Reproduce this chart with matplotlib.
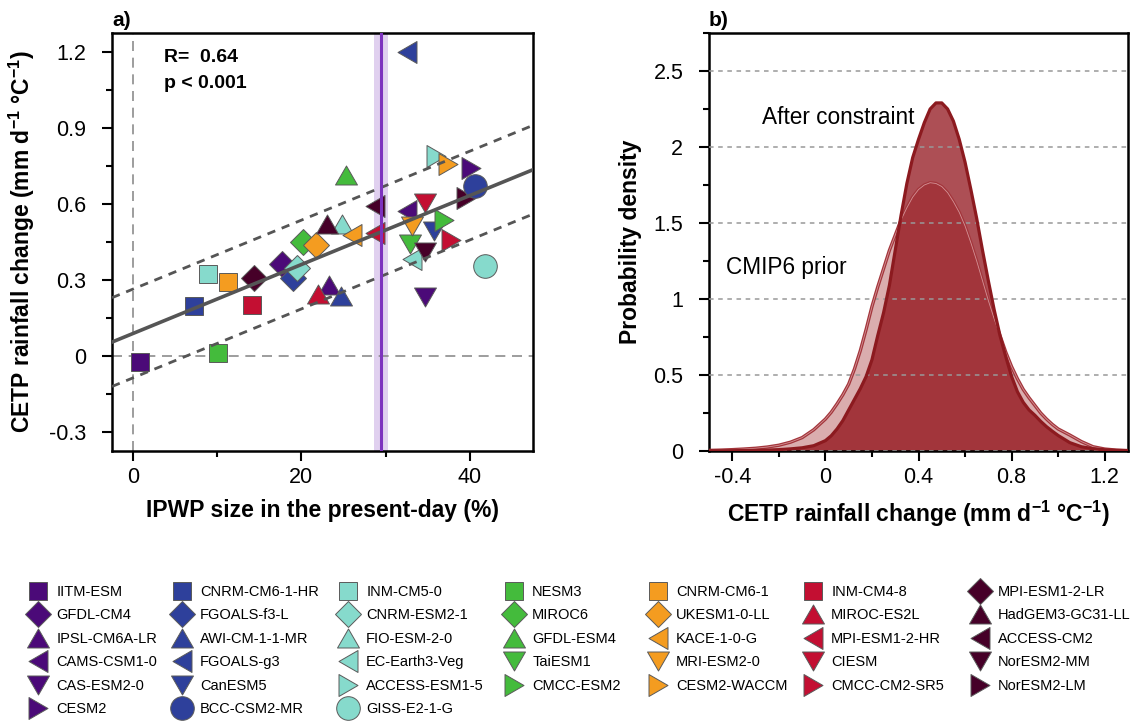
#======================================================================
#   IMPORTS:
#======================================================================

import numpy as np
import matplotlib
matplotlib.use('Agg')
from matplotlib import pyplot as plt
from matplotlib.path import Path
from matplotlib.ticker import MultipleLocator, FuncFormatter


#======================================================================
#   GLOBALS:
#======================================================================

plt.rcParams['font.family'] = ['Liberation Sans', 'DejaVu Sans']
plt.rcParams['axes.unicode_minus'] = False
plt.rcParams['mathtext.fontset'] = 'custom'
plt.rcParams['mathtext.rm'] = 'Liberation Sans'
plt.rcParams['mathtext.bf'] = 'Liberation Sans:bold'
plt.rcParams['mathtext.default'] = 'regular'

# one colour per legend column
ls_colors = ['#4b0a78', '#2e409b', '#86dacc', '#44bb3c', '#f49c20', '#c30f32', '#460028']

# models, in legend order (column by column)
ls_names = ['IITM-ESM', 'GFDL-CM4', 'IPSL-CM6A-LR', 'CAMS-CSM1-0', 'CAS-ESM2-0', 'CESM2',
            'CNRM-CM6-1-HR', 'FGOALS-f3-L', 'AWI-CM-1-1-MR', 'FGOALS-g3', 'CanESM5', 'BCC-CSM2-MR',
            'INM-CM5-0', 'CNRM-ESM2-1', 'FIO-ESM-2-0', 'EC-Earth3-Veg', 'ACCESS-ESM1-5', 'GISS-E2-1-G',
            'NESM3', 'MIROC6', 'GFDL-ESM4', 'TaiESM1', 'CMCC-ESM2',
            'CNRM-CM6-1', 'UKESM1-0-LL', 'KACE-1-0-G', 'MRI-ESM2-0', 'CESM2-WACCM',
            'INM-CM4-8', 'MIROC-ES2L', 'MPI-ESM1-2-HR', 'CIESM', 'CMCC-CM2-SR5',
            'MPI-ESM1-2-LR', 'HadGEM3-GC31-LL', 'ACCESS-CM2', 'NorESM2-MM', 'NorESM2-LM']

ls_groups = [0]*6 + [1]*6 + [2]*6 + [3]*5 + [4]*5 + [5]*5 + [6]*5

ls_shapes = ['s', 'D', '^', '<', 'v', '>',
             's', 'D', '^', '<', 'v', 'o',
             's', 'D', '^', '<', '>', 'o',
             's', 'D', '^', 'v', '>',
             's', 'D', '<', 'v', '>',
             's', '^', '<', 'v', '>',
             'D', '^', '<', 'v', '>']

# IPWP size in the present-day (%)
ls_ipwp = [0.85, 17.7, 23.3, 32.5, 34.7, 40.2,
           7.25, 19.05, 24.7, 32.6, 35.7, 40.6,
           8.9, 19.45, 24.8, 33.1, 36.0, 41.8,
           10.1, 20.2, 25.3, 32.9, 36.9,
           11.3, 21.75, 26.0, 33.1, 37.4,
           14.2, 22.0, 28.8, 34.7, 37.8,
           14.35, 23.0, 28.8, 34.7, 39.6]

# CETP rainfall change (mm/d/K)
ls_cetp = [-0.024, 0.365, 0.28, 0.573, 0.234, 0.742,
           0.197, 0.31, 0.24, 1.20, 0.494, 0.67,
           0.323, 0.35, 0.523, 0.385, 0.792, 0.355,
           0.012, 0.452, 0.715, 0.442, 0.536,
           0.294, 0.44, 0.48, 0.513, 0.757,
           0.203, 0.247, 0.488, 0.605, 0.46,
           0.308, 0.52, 0.593, 0.413, 0.623]

# fit
f_icept = 0.09
f_slope = 0.0136
f_band = 0.175
s_r = 'R=  0.64'
s_p = 'p < 0.001'

# observed IPWP size and its range
f_obs = 29.45
f_obs_lo = 28.65
f_obs_hi = 30.3

# panel b: probability density
ls_pdf_x = [-0.5, -0.45, -0.4, -0.35, -0.3, -0.25, -0.2, -0.15, -0.1, -0.05,
            0.0, 0.025, 0.05, 0.075, 0.1, 0.125, 0.15, 0.175, 0.2, 0.225,
            0.25, 0.275, 0.3, 0.325, 0.35, 0.375, 0.4, 0.425, 0.45, 0.475,
            0.5, 0.525, 0.55, 0.575, 0.6, 0.625, 0.65, 0.675, 0.7, 0.725,
            0.75, 0.775, 0.8, 0.825, 0.85, 0.875, 0.9, 0.925, 0.95, 0.975,
            1.0, 1.05, 1.1, 1.15, 1.2, 1.25, 1.3]

ls_prior = [0.004, 0.006, 0.009, 0.013, 0.018, 0.026, 0.038, 0.058, 0.088, 0.14,
            0.21, 0.255, 0.31, 0.37, 0.44, 0.54, 0.66, 0.80, 0.95, 1.08,
            1.20, 1.32, 1.42, 1.52, 1.60, 1.67, 1.72, 1.75, 1.765, 1.76,
            1.74, 1.70, 1.64, 1.57, 1.48, 1.37, 1.25, 1.12, 0.99, 0.87,
            0.76, 0.65, 0.555, 0.475, 0.405, 0.35, 0.30, 0.25, 0.21, 0.175,
            0.145, 0.105, 0.062, 0.028, 0.013, 0.006, 0.003]

ls_after = [0.001, 0.001, 0.002, 0.003, 0.004, 0.006, 0.009, 0.014, 0.021, 0.035,
            0.068, 0.10, 0.145, 0.20, 0.27, 0.34, 0.41, 0.49, 0.60, 0.76,
            0.91, 1.09, 1.32, 1.55, 1.76, 1.93, 2.05, 2.16, 2.25, 2.29,
            2.29, 2.25, 2.17, 2.05, 1.90, 1.72, 1.53, 1.32, 1.12, 0.93,
            0.76, 0.62, 0.49, 0.39, 0.32, 0.27, 0.235, 0.195, 0.16, 0.13,
            0.102, 0.055, 0.028, 0.015, 0.008, 0.004, 0.002]


#======================================================================
#   FUNCTIONS:
#======================================================================

def tri(angle):
    '''equilateral triangle marker, side = markersize'''
    v = np.array([[0.433, 0.0], [-0.433, 0.5], [-0.433, -0.5], [0.433, 0.0]])
    c, s = np.cos(np.radians(angle)), np.sin(np.radians(angle))
    v = v @ np.array([[c, s], [-s, c]])
    return Path(v, closed=True)


d_marker = {'s': 's', 'D': 'D', 'o': 'o',
            '^': tri(90), 'v': tri(-90), '<': tri(180), '>': tri(0)}
d_size = {'s': 13.2, 'D': 13.0, 'o': 17.0, '^': 15.8, 'v': 15.8, '<': 15.8, '>': 15.8}


def fmt(v, pos):
    v = round(v, 3)
    if v == 0:
        return '0'
    return '%g' % v


def style_axes(ax):
    for sp in ax.spines.values():
        sp.set_linewidth(1.8)
    ax.tick_params(which='both', direction='out', width=1.5, labelsize=15.5)
    ax.tick_params(which='major', length=7.5)
    ax.tick_params(which='minor', length=4)
    ax.tick_params(axis='y', pad=11)
    ax.tick_params(axis='x', pad=4)
    ax.xaxis.set_major_formatter(FuncFormatter(fmt))
    ax.yaxis.set_major_formatter(FuncFormatter(fmt))


#======================================================================
#   MAIN:
#======================================================================

if (__name__ == '__main__'):

    fig = plt.figure(figsize=(11.32, 7.22), dpi=100)
    ax_a = fig.add_axes([112/1132, 271/722, 421/1132, 418/722])
    ax_b = fig.add_axes([709/1132, 271/722, 419/1132, 418/722])

    #------------------------------------------------ panel a
    ax_a.axvspan(f_obs_lo, f_obs_hi, color='#e0d0ef', lw=0, zorder=1)
    ax_a.axvline(0, color='#8c8c8c', lw=1.2, ls=(0, (6, 4)), zorder=1.5)
    ax_a.axhline(0, color='#8c8c8c', lw=1.2, ls=(0, (6, 4)), zorder=1.5)

    handles = []
    for i in range(len(ls_names)):
        sh = ls_shapes[i]
        h, = ax_a.plot(ls_ipwp[i], ls_cetp[i], ls='none', marker=d_marker[sh],
                       ms=d_size[sh], mfc=ls_colors[ls_groups[i]], mec='#5a5a5a',
                       mew=0.7, zorder=4 if sh == 'o' else 3, label=ls_names[i])
        handles.append(h)

    ax_a.set_xlim(-2.47, 47.5)
    ax_a.set_ylim(-0.373, 1.275)

    xs = np.array(ax_a.get_xlim())
    ax_a.plot(xs, f_icept + f_slope*xs, color='#555555', lw=2.6, zorder=5)
    ax_a.plot(xs, f_icept + f_band + f_slope*xs, color='#555555', lw=2.0,
              ls=(0, (3, 2.5)), zorder=5)
    ax_a.plot(xs, f_icept - f_band + f_slope*xs, color='#555555', lw=2.0,
              ls=(0, (3, 2.5)), zorder=5)
    ax_a.axvline(f_obs, color='#7d32be', lw=2.2, zorder=6)
    ax_a.set_xlim(-2.47, 47.5)

    ax_a.text(3.75, 1.178, s_r, fontsize=14, fontweight='bold', va='center')
    ax_a.text(3.75, 1.076, s_p, fontsize=14, fontweight='bold', va='center')
    ax_a.text(0, 1.031, 'a)', transform=ax_a.transAxes, fontsize=15,
              fontweight='bold', va='center')

    ax_a.xaxis.set_major_locator(MultipleLocator(20))
    ax_a.xaxis.set_minor_locator(MultipleLocator(10))
    ax_a.yaxis.set_major_locator(MultipleLocator(0.3))
    ax_a.yaxis.set_minor_locator(MultipleLocator(0.15))
    style_axes(ax_a)
    ax_a.set_xlabel('IPWP size in the present-day (%)', fontsize=16.5,
                    fontweight='bold', labelpad=8)
    ax_a.set_ylabel('CETP rainfall change (mm d$^{-1}$ °C$^{-1}$)', fontsize=16.5,
                    fontweight='bold', labelpad=9)

    #------------------------------------------------ panel b
    ax_b.fill_between(ls_pdf_x, 0, ls_after, color='#ad4f55', lw=0, zorder=1)
    ax_b.fill_between(ls_pdf_x, 0, ls_prior, color='#8c0005', alpha=0.32, lw=0, zorder=1.2)
    ax_b.plot(ls_pdf_x, ls_prior, color='#a3353b', lw=2.4, zorder=3)
    ax_b.plot(ls_pdf_x, ls_prior, color='#d49296', lw=0.6, zorder=3.1)
    ax_b.plot(ls_pdf_x, ls_after, color='#8c1a1f', lw=2.3, zorder=3.5)

    ax_b.set_axisbelow(False)
    ax_b.yaxis.grid(True, ls=(0, (3, 3)), color='#999999', lw=1.1)

    ax_b.set_xlim(-0.5, 1.3)
    ax_b.set_ylim(0, 2.75)
    ax_b.xaxis.set_major_locator(MultipleLocator(0.4))
    ax_b.xaxis.set_minor_locator(MultipleLocator(0.2))
    ax_b.yaxis.set_major_locator(MultipleLocator(0.5))
    ax_b.yaxis.set_minor_locator(MultipleLocator(0.25))
    style_axes(ax_b)

    ax_b.text(-0.271, 2.197, 'After constraint', fontsize=16.3, va='center')
    ax_b.text(-0.425, 1.21, 'CMIP6 prior', fontsize=16.3, va='center')
    ax_b.text(0, 1.031, 'b)', transform=ax_b.transAxes, fontsize=15,
              fontweight='bold', va='center')
    ax_b.set_xlabel('CETP rainfall change (mm d$^{-1}$ °C$^{-1}$)', fontsize=16.5,
                    fontweight='bold', labelpad=8)
    ax_b.set_ylabel('Probability density', fontsize=16.5,
                    fontweight='bold', labelpad=8)

    #------------------------------------------------ legend, one per column
    ls_leg_x = [38, 182, 348, 514, 658, 813, 980]     # marker centres, px
    for g in range(7):
        hs = [handles[i] for i in range(len(ls_names)) if ls_groups[i] == g]
        fig.legend(hs, [h.get_label() for h in hs], loc='upper left',
                   bbox_to_anchor=((ls_leg_x[g] - 7.3)/1132, 0.19),
                   frameon=False, fontsize=10.5, handlelength=1.0,
                   handletextpad=0.75, labelspacing=0.65, borderpad=0,
                   borderaxespad=0, numpoints=1)

    fig.savefig('out.png', dpi=100)
